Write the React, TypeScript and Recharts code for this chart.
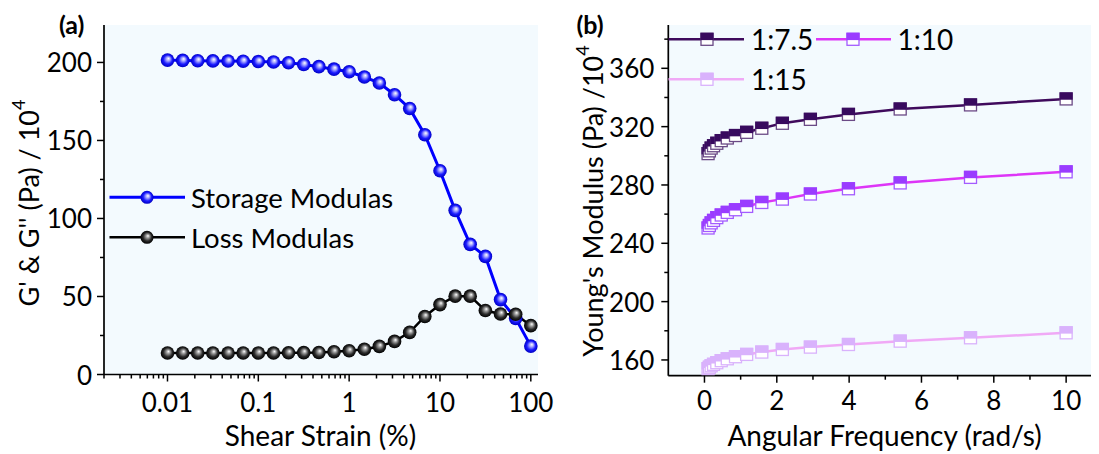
import { LineChart, Line, XAxis, YAxis, CartesianGrid } from "recharts";

// ---- panel (a): strain sweep ----
const strain = [
  0.01, 0.0147, 0.0215, 0.0316, 0.0464, 0.0681, 0.1, 0.147, 0.215, 0.316, 0.464, 0.681, 1, 1.47, 2.15,
  3.16, 4.64, 6.81, 10, 14.7, 21.5, 31.6, 46.4, 68.1, 100,
];
const storageModulus = [
  201.5, 201.3, 201.1, 201, 200.9, 200.8, 200.6, 200.3, 199.8, 198.7, 197.3, 195.7, 194, 190.7, 186.8,
  179.3, 170.5, 153.7, 130.6, 105.2, 83.4, 75.7, 48, 36, 18.2,
];
const lossModulus = [
  13.8, 13.8, 13.8, 13.8, 13.8, 13.8, 13.8, 13.8, 13.9, 14, 14.1, 14.6, 15.2, 16.2, 18, 21.2, 27, 37.2,
  44.8, 50.2, 50.2, 41, 38.8, 38.6, 31.3,
];
const strainTicks = [0.01, 0.1, 1, 10, 100];
const modulusTicks = [0, 50, 100, 150, 200];
const modulusMinor = [25, 75, 125, 175];

// ---- panel (b): frequency sweep ----
const frequency = [
  0.1, 0.136, 0.185, 0.251, 0.341, 0.464, 0.631, 0.858, 1.166, 1.585, 2.154, 2.929, 3.981, 5.412, 7.356, 10,
];
const ratio75 = [
  301.5, 303.4, 305.3, 306.9, 308.6, 310.4, 312.2, 313.9, 316.1, 318.9, 322.3, 325, 328.4, 332.1, 334.9, 339,
];
const ratio10 = [
  250.5, 252.2, 254, 255.7, 257.6, 259.4, 261.2, 263, 265.3, 268, 270.3, 273.8, 277.4, 281.4, 285.2, 289,
];
const ratio15 = [
  154, 155, 156, 157, 158.1, 159.5, 160.8, 162.2, 163.8, 165.4, 167.2, 168.8, 170.6, 172.9, 175.2, 178.6,
];
const freqTicks = [0, 2, 4, 6, 8, 10];
const freqMinor = [1, 3, 5, 7, 9];
const youngTicks = [160, 200, 240, 280, 320, 360];
const youngMinor = [180, 220, 260, 300, 340, 380];

const FONT = "Lato, 'Open Sans', sans-serif";
const BG = "#f3fafe";
const EDGE = "#bfe3f7";

const strainMinor: number[] = [];
[0.001, 0.01, 0.1, 1, 10].forEach((d) => {
  for (let m = 2; m <= 9; m++) {
    const v = +(d * m).toPrecision(3);
    if (v >= 0.002 && v <= 120) strainMinor.push(v);
  }
});

const dataA = strain.map((s, i) => ({ strain: s, storage: storageModulus[i], loss: lossModulus[i] }));
const dataB = frequency.map((f, i) => ({ f, r75: ratio75[i], r10: ratio10[i], r15: ratio15[i] }));

function Sphere({ cx, cy, grad }: any) {
  return <circle cx={cx} cy={cy} r={6.8} fill={`url(#${grad})`} />;
}

function HalfSquare({ cx, cy, fill, edge }: any) {
  return (
    <g>
      <rect x={cx - 6} y={cy - 6} width={12} height={12} fill="#fff" stroke={edge} strokeWidth={1.3} />
      <rect x={cx - 6.6} y={cy - 6.6} width={13.2} height={7.4} fill={fill} />
    </g>
  );
}

function makeXTick(majors: number[], gap: number) {
  return (p: any) => {
    const major = majors.includes(p.payload.value);
    return (
      <g>
        <line x1={p.x} x2={p.x} y1={p.y} y2={p.y + (major ? 7 : 4)} stroke="#000" strokeWidth={1.5} />
        {major && (
          <text x={p.x} y={p.y + gap} textAnchor="middle" dominantBaseline="central" fontSize={26} fontFamily={FONT} fill="#000">
            {p.payload.value}
          </text>
        )}
      </g>
    );
  };
}

function makeYTick(majors: number[], gap: number) {
  return (p: any) => {
    const major = majors.includes(p.payload.value);
    return (
      <g>
        <line x1={p.x} x2={p.x - (major ? 7 : 4)} y1={p.y} y2={p.y} stroke="#000" strokeWidth={1.5} />
        {major && (
          <text x={p.x - gap} y={p.y} textAnchor="end" dominantBaseline="central" fontSize={26} fontFamily={FONT} fill="#000">
            {p.payload.value}
          </text>
        )}
      </g>
    );
  };
}

const axisLine = { stroke: "#000", strokeWidth: 1.7 };
const edgeLine = { stroke: EDGE, strokeWidth: 1.6 };

const series = [
  { key: "r75", name: "1:7.5", line: "#3f0a5c", fill: "#380a5e", edge: "#6b4a86" },
  { key: "r10", name: "1:10", line: "#dd35f7", fill: "#9a3cff", edge: "#a35cff" },
  { key: "r15", name: "1:15", line: "#f0a9f6", fill: "#d9b2fc", edge: "#d9b2fc" },
];

export default function App() {
  return (
    <div style={{ position: "relative", width: 1091, height: 446, overflow: "hidden", fontFamily: FONT }}>
      <div style={{ position: "absolute", left: 0, top: 0 }}>
        <LineChart width={550} height={446} data={dataA} margin={{ top: 17, right: 20, bottom: 0, left: 0 }}>
          <defs>
            <radialGradient id="gBlue" cx="50%" cy="50%" r="50%" fx="58%" fy="38%">
              <stop offset="0%" stopColor="#ffffff" />
              <stop offset="28%" stopColor="#a8a8ff" />
              <stop offset="65%" stopColor="#1a1aff" />
              <stop offset="100%" stopColor="#0000c4" />
            </radialGradient>
            <radialGradient id="gBlack" cx="50%" cy="50%" r="50%" fx="58%" fy="38%">
              <stop offset="0%" stopColor="#ffffff" />
              <stop offset="28%" stopColor="#9a9a9a" />
              <stop offset="65%" stopColor="#2a2a2a" />
              <stop offset="100%" stopColor="#000000" />
            </radialGradient>
          </defs>
          <CartesianGrid fill={BG} horizontal={false} vertical={false} />
          <XAxis
            dataKey="strain"
            type="number"
            scale="log"
            domain={[0.002, 120]}
            allowDataOverflow
            ticks={[...strainTicks, ...strainMinor]}
            interval={0}
            height={79.5}
            tickLine={false}
            tickSize={0}
            tickMargin={0}
            axisLine={axisLine}
            tick={makeXTick(strainTicks, 27.4)}
          />
          <XAxis xAxisId="top" orientation="top" type="number" scale="log" domain={[0.002, 120]} allowDataOverflow height={0} tick={false} tickLine={false} axisLine={edgeLine} />
          <YAxis
            type="number"
            domain={[0, 224]}
            allowDataOverflow
            ticks={[...modulusTicks, ...modulusMinor]}
            interval={0}
            width={96}
            tickLine={false}
            tickSize={0}
            tickMargin={0}
            axisLine={axisLine}
            tick={makeYTick(modulusTicks, 12)}
          />
          <YAxis yAxisId="right" orientation="right" type="number" domain={[0, 224]} width={0} tick={false} tickLine={false} axisLine={edgeLine} />
          <Line
            dataKey="storage"
            stroke="#0000ff"
            strokeWidth={3}
            isAnimationActive={false}
            dot={(p: any) => <Sphere key={`s${p.index}`} cx={p.cx} cy={p.cy} grad="gBlue" />}
          />
          <Line
            dataKey="loss"
            stroke="#000"
            strokeWidth={2.5}
            isAnimationActive={false}
            dot={(p: any) => <Sphere key={`l${p.index}`} cx={p.cx} cy={p.cy} grad="gBlack" />}
          />
        </LineChart>
      </div>

      <div style={{ position: "absolute", left: 560, top: 0 }}>
        <LineChart width={560} height={446} data={dataB} margin={{ top: 17, right: 25.7, bottom: 0, left: 0 }}>
          <CartesianGrid fill={BG} horizontal={false} vertical={false} />
          <XAxis
            dataKey="f"
            type="number"
            domain={[-1, 11]}
            allowDataOverflow
            ticks={[...freqTicks, ...freqMinor]}
            interval={0}
            height={78.3}
            tickLine={false}
            tickSize={0}
            tickMargin={0}
            axisLine={axisLine}
            tick={makeXTick(freqTicks, 24.3)}
          />
          <XAxis xAxisId="top" orientation="top" type="number" domain={[-1, 11]} height={0} tick={false} tickLine={false} axisLine={edgeLine} />
          <YAxis
            type="number"
            domain={[149.2, 389.7]}
            allowDataOverflow
            ticks={[...youngTicks, ...youngMinor]}
            interval={0}
            width={100.3}
            tickLine={false}
            tickSize={0}
            tickMargin={0}
            axisLine={axisLine}
            tick={makeYTick(youngTicks, 14)}
          />
          {series.map((s) => (
            <Line
              key={s.key}
              dataKey={s.key}
              stroke={s.line}
              strokeWidth={2.5}
              isAnimationActive={false}
              dot={(p: any) => <HalfSquare key={`${s.key}${p.index}`} cx={p.cx} cy={p.cy} fill={s.fill} edge={s.edge} />}
            />
          ))}
        </LineChart>
      </div>

      <svg width={1091} height={446} style={{ position: "absolute", left: 0, top: 0, pointerEvents: "none" }} fontFamily={FONT}>
        <text x={63.7} y={16} textAnchor="middle" dominantBaseline="central" fontSize={25} fontWeight="bold">(a)</text>
        <text x={582} y={16} textAnchor="middle" dominantBaseline="central" fontSize={25} fontWeight="bold">(b)</text>

        <text x={312.5} y={427} textAnchor="middle" dominantBaseline="central" fontSize={28}>Shear Strain (%)</text>
        <text x={876.6} y={427} textAnchor="middle" dominantBaseline="central" fontSize={28}>Angular Frequency (rad/s)</text>
        <text transform="translate(20.6,195) rotate(-90)" textAnchor="middle" dominantBaseline="central" fontSize={27}>
          G' &amp; G'' (Pa) / 10<tspan fontSize={18} dy={-11}>4</tspan>
        </text>
        <text transform="translate(584.6,193) rotate(-90)" textAnchor="middle" dominantBaseline="central" fontSize={27}>
          Young's Modulus (Pa) /10<tspan fontSize={18} dy={-11}>4</tspan>
        </text>

        {/* legend (a) */}
        <line x1={101.5} x2={177} y1={189.3} y2={189.3} stroke="#0000ff" strokeWidth={3} />
        <circle cx={139} cy={189.3} r={6.5} fill="url(#gBlue)" />
        <text x={183} y={189.3} dominantBaseline="central" fontSize={27.5}>Storage Modulas</text>
        <line x1={101.5} x2={177} y1={229.3} y2={229.3} stroke="#000" strokeWidth={2.5} />
        <circle cx={139} cy={229.3} r={6.5} fill="url(#gBlack)" />
        <text x={183} y={229.3} dominantBaseline="central" fontSize={27.5}>Loss Modulas</text>

        {/* legend (b) */}
        {[
          { s: series[0], x1: 660.5, x2: 736, mx: 699, tx: 743, y: 31.3 },
          { s: series[1], x1: 808, x2: 883, mx: 845, tx: 889.6, y: 31.3 },
          { s: series[2], x1: 660.5, x2: 736, mx: 699, tx: 743, y: 71.3 },
        ].map((e) => (
          <g key={e.s.key}>
            <line x1={e.x1} x2={e.x2} y1={e.y} y2={e.y} stroke={e.s.line} strokeWidth={2.5} />
            <HalfSquare cx={e.mx} cy={e.y} fill={e.s.fill} edge={e.s.edge} />
            <text x={e.tx} y={e.y} dominantBaseline="central" fontSize={28}>{e.s.name}</text>
          </g>
        ))}
      </svg>
    </div>
  );
}
